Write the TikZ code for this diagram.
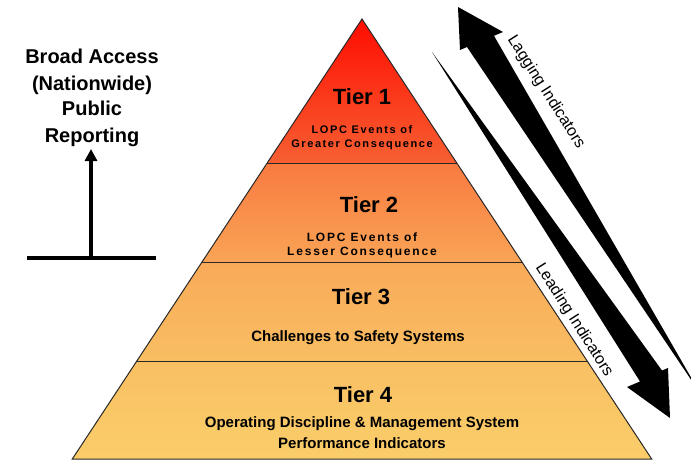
\documentclass[tikz,border=0pt]{standalone}
\usepackage{fontspec}
\setmainfont{Liberation Sans}
\usetikzlibrary{arrows.meta,calc}
\definecolor{c1top}{RGB}{255,12,0}
\definecolor{c1bot}{RGB}{247,96,50}
\definecolor{c2top}{RGB}{249,122,64}
\definecolor{c2bot}{RGB}{249,164,86}
\definecolor{c3top}{RGB}{249,170,89}
\definecolor{c3bot}{RGB}{249,190,98}
\definecolor{c4top}{RGB}{249,192,99}
\definecolor{c4bot}{RGB}{250,205,106}
\definecolor{linegray}{RGB}{40,40,40}
\tikzset{
  tiertitle/.style={anchor=base, inner sep=0pt, font=\fontsize{22}{26}\selectfont\bfseries},
  subone/.style={anchor=base, inner sep=0pt, font=\fontsize{11}{13}\selectfont\bfseries\addfontfeatures{LetterSpace=14.5}},
  subtwo/.style={anchor=base, inner sep=0pt, font=\fontsize{12}{14}\selectfont\bfseries\addfontfeatures{LetterSpace=15}},
  tiertext/.style={anchor=base, inner sep=0pt, font=\fontsize{15}{18}\selectfont\bfseries},
  sidetext/.style={anchor=base, inner sep=0pt, font=\fontsize{20}{24}\selectfont\bfseries},
  indtext/.style={inner sep=0pt, font=\fontsize{16}{19}\selectfont, rotate=-57.5},
  tierline/.style={draw=linegray, line width=1pt},
  thickline/.style={line width=4pt},
}
\begin{document}
\begin{tikzpicture}[x=1pt,y=-1pt]
\useasboundingbox (0,0) rectangle (691,461);
\clip (0,0) rectangle (691,461);
% pyramid geometry
\coordinate (A) at (362,19);
\coordinate (BL) at (72.3,459);
\coordinate (BR) at (651.7,459);
\coordinate (L1) at ($(A)!0.3273!(BL)$);
\coordinate (R1) at ($(A)!0.3273!(BR)$);
\coordinate (L2) at ($(A)!0.5523!(BL)$);
\coordinate (R2) at ($(A)!0.5523!(BR)$);
\coordinate (L3) at ($(A)!0.7795!(BL)$);
\coordinate (R3) at ($(A)!0.7795!(BR)$);
% tiers
\shade[top color=c1top, bottom color=c1bot] (A) -- (R1) -- (L1) -- cycle;
\shade[top color=c2top, bottom color=c2bot] (L1) -- (R1) -- (R2) -- (L2) -- cycle;
\shade[top color=c3top, bottom color=c3bot] (L2) -- (R2) -- (R3) -- (L3) -- cycle;
\shade[top color=c4top, bottom color=c4bot] (L3) -- (R3) -- (BR) -- (BL) -- cycle;
\draw[tierline] (L1) -- (R1);
\draw[tierline] (L2) -- (R2);
\draw[tierline] (L3) -- (R3);
\draw[tierline] (A) -- (BR) -- (BL) -- cycle;
% tier texts
\node[tiertitle] (t1) at (362,104) {Tier 1};
\node[subone] (t1a) at (362,133) {LOPC Events of};
\node[subone] (t1b) at (362,147) {Greater Consequence};
\node[tiertitle] (t2) at (369,212) {Tier 2};
\node[subtwo] (t2a) at (362,241) {LOPC Events of};
\node[subtwo] (t2b) at (362,255) {Lesser Consequence};
\node[tiertitle] (t3) at (361,304) {Tier 3};
\node[tiertext] (t3a) at (358,341) {Challenges to Safety Systems};
\node[tiertitle] (t4) at (363,402) {Tier 4};
\node[tiertext] (t4a) at (362,427) {Operating Discipline \& Management System};
\node[tiertext] (t4b) at (362,448) {Performance Indicators};
% left side
\node[sidetext] (s1) at (92,63) {Broad Access};
\node[sidetext] (s2) at (92,90) {(Nationwide)};
\node[sidetext] (s3) at (92,115) {Public};
\node[sidetext] (s4) at (92,142) {Reporting};
\coordinate (hl) at (27,258);
\coordinate (hr) at (156,258);
\coordinate (stembot) at (91,258);
\coordinate (stemtop) at (91,149);
\draw[thickline] (hl) -- (hr);
\draw[thickline, -{Triangle[width=12pt,length=12pt]}] (stembot) -- (stemtop);
% lagging indicators arrow (head top-left, tapering to bottom-right)
\fill[black] (458,7) -- (503,32) -- (494,35.8) -- (700,393) -- (467,47) -- (460,50) -- cycle;
% leading indicators arrow (starting point top-left, head bottom-right)
\fill[black] (432,52) -- (662,370.5) -- (668,368) -- (670,418) -- (627,387) -- (640,381.5) -- cycle;
\node[indtext] (lag) at (546,92) {Lagging Indicators};
\node[indtext] (lead) at (574,320) {Leading Indicators};
\end{tikzpicture}
\end{document}
